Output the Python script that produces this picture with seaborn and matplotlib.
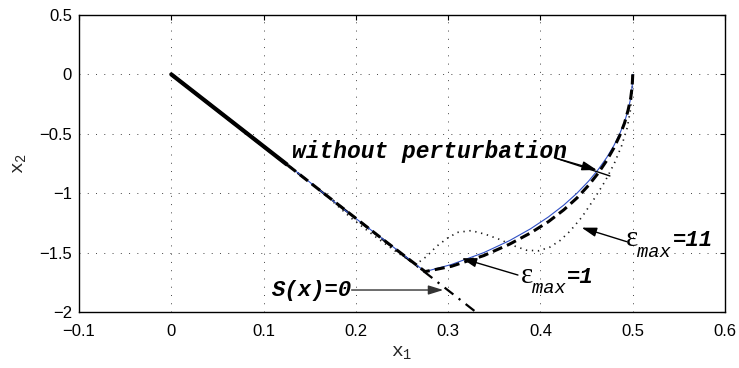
import matplotlib
matplotlib.use("Agg")
import matplotlib.pyplot as plt
import pandas as pd
import seaborn as sns

# Sliding surface S(x) = 0
s_x1 = [0.0, 0.33]
s_x2 = [0.0, -2.0]

# Phase trajectory without perturbation (reaching arc, then sliding to the origin)
nom_x1 = [0.5000, 0.4994, 0.4978, 0.4950, 0.4911, 0.4859, 0.4795, 0.4718, 0.4627,
          0.4520, 0.4396, 0.4253, 0.4086, 0.3892, 0.3663, 0.3387, 0.3037, 0.2750,
          0.2300, 0.1850, 0.1400, 0.0950, 0.0500, 0.0]
nom_x2 = [0.00, -0.10, -0.20, -0.30, -0.40, -0.50, -0.60, -0.70, -0.80,
          -0.90, -1.00, -1.10, -1.20, -1.30, -1.40, -1.50, -1.60, -1.66,
          -1.39, -1.125, -0.845, -0.58, -0.30, 0.0]

# Trajectory with eps_max = 1
e1_x1 = nom_x1
e1_x2 = [0.00, -0.10, -0.20, -0.30, -0.41, -0.515, -0.62, -0.725, -0.83,
         -0.935, -1.04, -1.14, -1.24, -1.335, -1.43, -1.525, -1.615, -1.66,
         -1.393, -1.121, -0.848, -0.576, -0.303, 0.0]

# Trajectory with eps_max = 11: reaching phase
e11_x1 = [0.5000, 0.4993, 0.4975, 0.4940, 0.4880, 0.4800, 0.4700, 0.4580, 0.4450,
          0.4320, 0.4210, 0.4100, 0.3980, 0.3850, 0.3720, 0.3560, 0.3400, 0.3250,
          0.3100, 0.2990, 0.2870, 0.2770, 0.2650, 0.2450, 0.2200, 0.1950, 0.1720]
e11_x2 = [0.00, -0.15, -0.30, -0.45, -0.60, -0.75, -0.90, -1.05, -1.20,
          -1.32, -1.40, -1.455, -1.485, -1.48, -1.445, -1.39, -1.345, -1.315,
          -1.33, -1.38, -1.45, -1.53, -1.60, -1.50, -1.36, -1.21, -1.05]
# eps_max = 11: chattering along the surface near the origin
e11s_x1 = [0.125, 0.0]
e11s_x2 = [-0.757, 0.0]

x_ticks = [-0.1, 0.0, 0.1, 0.2, 0.3, 0.4, 0.5, 0.6]
x_tick_labels = ["\u22120.1", "0", "0.1", "0.2", "0.3", "0.4", "0.5", "0.6"]
y_ticks = [-2.0, -1.5, -1.0, -0.5, 0.0, 0.5]
y_tick_labels = ["\u22122", "\u22121.5", "\u22121", "\u22120.5", "0", "0.5"]

sns.set_theme(style="white")
plt.rcParams["font.family"] = ["Liberation Sans", "DejaVu Sans"]

fig = plt.figure(figsize=(7.39, 3.68), dpi=100)
ax = fig.add_axes([0.1069, 0.1522, 0.8742, 0.8071])

def draw(x, y, **kw):
    df = pd.DataFrame({"x1": x, "x2": y})
    sns.lineplot(data=df, x="x1", y="x2", sort=False, estimator=None, ax=ax, **kw)

draw(s_x1, s_x2, color="black", linewidth=1.6, linestyle=(0, (5, 3, 1, 3)))
draw(e11_x1, e11_x2, color="#1a1a1a", linewidth=1.2, linestyle=(0, (0.8, 2.8)))
draw(nom_x1, nom_x2, color="#2f4fc4", linewidth=0.8)
draw(e1_x1, e1_x2, color="black", linewidth=2.2, linestyle=(0, (3.3, 1.7)))
draw(e11s_x1, e11s_x2, color="black", linewidth=3.0, solid_capstyle="round")

ax.set_xlim(-0.1, 0.6)
ax.set_ylim(-2.0, 0.5)
ax.set_xticks(x_ticks)
ax.set_xticklabels(x_tick_labels)
ax.set_yticks(y_ticks)
ax.set_yticklabels(y_tick_labels)
ax.tick_params(direction="in", top=True, right=True, length=3.6, width=0.8,
               color="black", labelsize=12, labelcolor="black")
ax.tick_params(axis="x", pad=8.5)
ax.tick_params(axis="y", pad=5)
for sp in ax.spines.values():
    sp.set_color("black")
    sp.set_linewidth(1.0)
ax.set_axisbelow(True)
ax.grid(True, color="#444444", linewidth=0.7, linestyle=(0, (1, 7.5)))

ax.set_xlabel(r"$\mathregular{x_1}$", fontfamily="Liberation Mono", fontsize=14, labelpad=4)
ax.set_ylabel(r"$\mathregular{x_2}$", fontfamily="Liberation Mono", fontsize=14, labelpad=8)

mono_bi = dict(fontfamily="Liberation Mono", fontweight="bold", fontstyle="italic",
               ha="left", va="baseline", color="black")
sub_i = dict(fontfamily="Liberation Mono", fontstyle="italic", fontsize=13.5,
             ha="left", va="baseline", color="black")
eps_kw = dict(fontfamily="Liberation Serif", fontsize=21, ha="left", va="baseline",
              color="black")

def arrow(tail, head, color="black"):
    ax.annotate("", xy=head, xytext=tail,
                arrowprops=dict(arrowstyle="-|>,head_length=0.9,head_width=0.28",
                                color=color, lw=1.0, shrinkA=0, shrinkB=0,
                                mutation_scale=10))

# without perturbation
ax.text(0.1308, -0.703, "without perturbation", fontsize=16.5, **mono_bi)
ax.plot([0.4157, 0.4753], [-0.703, -0.855], color="black", lw=1.0)
arrow((0.4157, -0.703), (0.4612, -0.805))

# S(x)=0
ax.text(0.1088, -1.865, "S(x)=0", fontsize=16, **mono_bi)
arrow((0.1954, -1.815), (0.2947, -1.815), color="#333333")

# eps_max = 11
ax.text(0.4930, -1.444, "\u03b5", **eps_kw)
ax.text(0.5045, -1.537, "max", **sub_i)
ax.text(0.5435, -1.444, "=11", fontsize=16, **mono_bi)
arrow((0.4934, -1.408), (0.4446, -1.290))

# eps_max = 1
ax.text(0.3793, -1.756, "\u03b5", **eps_kw)
ax.text(0.3908, -1.840, "max", **sub_i)
ax.text(0.4287, -1.756, "=1", fontsize=16, **mono_bi)
arrow((0.3756, -1.689), (0.3146, -1.548))

fig.savefig("out.png", dpi=100)
